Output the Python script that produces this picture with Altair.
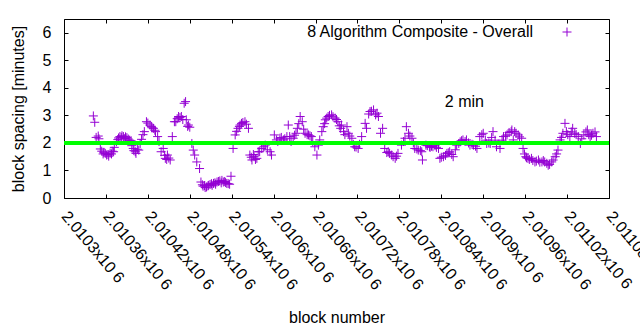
import altair as alt
import pandas as pd

# ---- data ----
BLOCKS = [
    2010342, 2010344, 2010349, 2010350, 2010354, 2010359, 2010361, 2010366, 2010371, 2010372,
    2010375, 2010380, 2010385, 2010390, 2010394, 2010399, 2010402, 2010405, 2010409, 2010411,
    2010415, 2010418, 2010423, 2010428, 2010431, 2010434, 2010439, 2010442, 2010445, 2010448,
    2010452, 2010455, 2010458,
    2010460, 2010464, 2010468, 2010472, 2010474, 2010475, 2010478, 2010480, 2010483, 2010485,
    2010487, 2010490, 2010494, 2010496, 2010499, 2010504, 2010509, 2010514, 2010519, 2010523,
    2010528, 2010533, 2010537, 2010539, 2010542, 2010545, 2010549, 2010554, 2010559, 2010564,
    2010566, 2010569, 2010572, 2010576, 2010580,
    2010578, 2010583, 2010588, 2010595, 2010597, 2010601, 2010604, 2010609, 2010614, 2010619,
    2010621, 2010623, 2010628, 2010632, 2010634, 2010638, 2010641, 2010645, 2010650, 2010654,
    2010659, 2010662, 2010664, 2010666, 2010669, 2010671, 2010674, 2010678, 2010683, 2010688,
    2010692, 2010696, 2010700,
    2010697, 2010705, 2010707, 2010712, 2010716, 2010721, 2010726, 2010731, 2010733, 2010738,
    2010743, 2010746, 2010750, 2010753, 2010756, 2010759, 2010764, 2010769, 2010774, 2010778,
    2010783, 2010788, 2010790, 2010793, 2010798, 2010802, 2010807, 2010812, 2010813, 2010818,
    2010823,
    2010824, 2010828, 2010833, 2010838, 2010843, 2010848, 2010852, 2010857, 2010862, 2010867,
    2010871, 2010876, 2010881, 2010886, 2010891, 2010895, 2010900, 2010905, 2010910, 2010914,
    2010919, 2010924, 2010929, 2010934, 2010940, 2010943,
    2010941, 2010945, 2010950, 2010955, 2010957, 2010961, 2010964, 2010969, 2010974, 2010979,
    2010984, 2010988, 2010993, 2010998, 2011003, 2011007, 2011010, 2011014, 2011017, 2011019,
    2011024, 2011028, 2011031, 2011036, 2011039, 2011044, 2011049, 2011053, 2011057, 2011062,
]
SPACING = [
    2.98, 2.75, 2.25, 2.15, 1.70, 1.62, 1.56, 1.63, 1.68, 1.84,
    2.04, 2.23, 2.23, 2.19, 2.10, 1.80, 1.68, 1.77, 1.98, 2.13,
    2.41, 2.77, 2.65, 2.53, 2.41, 2.23, 1.68, 1.80, 1.44, 1.56,
    1.38, 2.23, 2.77,
    2.77, 2.96, 2.96, 3.44, 3.50, 2.84, 2.65, 2.57, 1.98, 1.74,
    1.56, 1.31, 1.07, 0.58, 0.43, 0.40, 0.49, 0.53, 0.58, 0.62,
    0.58, 0.53, 0.50, 0.79, 1.80, 2.29, 2.53, 2.71, 2.77, 2.53,
    1.56, 1.38, 1.50, 1.44, 1.68,
    1.68, 1.80, 1.92, 1.68, 1.56, 2.29, 2.11, 2.17, 2.11, 2.23,
    2.65, 2.23, 2.17, 2.35, 2.53, 2.96, 2.77, 2.35, 2.29, 2.23,
    1.86, 1.56, 1.92, 2.11, 2.41, 2.59, 2.84, 2.96, 3.02, 2.90,
    2.77, 2.53, 2.41,
    2.65, 2.59, 2.35, 2.17, 1.86, 1.80, 2.23, 2.71, 2.53, 3.14,
    3.20, 3.02, 2.96, 2.35, 2.53, 1.80, 1.68, 1.56, 1.44, 1.62,
    1.92, 2.17, 2.59, 2.35, 2.17, 1.80, 1.74, 1.68, 1.38, 1.92,
    1.86,
    1.84, 1.86, 1.84, 1.44, 1.50, 1.62, 1.68, 1.50, 1.92, 2.04,
    2.11, 2.11, 1.92, 1.92, 1.80, 2.23, 2.35, 1.98, 1.98, 2.41,
    1.86, 1.80, 2.23, 2.29, 2.41, 2.11,
    2.47, 2.41, 2.29, 2.17, 1.80, 1.50, 1.44, 1.44, 1.31, 1.38,
    1.31, 1.31, 1.19, 1.31, 1.50, 1.74, 2.11, 2.35, 2.71, 2.41,
    2.23, 2.53, 2.35, 2.23, 1.98, 2.29, 2.47, 2.23, 2.35, 2.23,
]
# further blocks read inside the dense clusters
MORE_BLOCKS = [
    2010346, 2010352, 2010356, 2010357, 2010363, 2010364, 2010368, 2010369, 2010377, 2010378,
    2010382, 2010383, 2010387, 2010388, 2010392, 2010396, 2010397, 2010400, 2010403, 2010407,
    2010413, 2010420, 2010425, 2010426, 2010430, 2010436, 2010444, 2010447, 2010450, 2010462,
    2010466, 2010470, 2010477, 2010498, 2010501, 2010502, 2010506, 2010507, 2010511, 2010512,
    2010516, 2010517, 2010521, 2010525, 2010526, 2010530, 2010531, 2010535, 2010547, 2010551,
    2010552, 2010556, 2010561, 2010568, 2010571, 2010574, 2010586, 2010591, 2010606, 2010611,
    2010616, 2010625, 2010630, 2010636, 2010643, 2010648, 2010652, 2010656, 2010673, 2010676,
    2010680, 2010685, 2010690, 2010694, 2010702, 2010709, 2010714, 2010718, 2010723, 2010736,
    2010740, 2010748, 2010762, 2010766, 2010771, 2010776, 2010786, 2010795, 2010800, 2010805,
    2010810, 2010820, 2010826, 2010831, 2010836, 2010840, 2010846, 2010850, 2010855, 2010860,
    2010865, 2010869, 2010874, 2010879, 2010884, 2010889, 2010898, 2010903, 2010908, 2010912,
    2010917, 2010927, 2010932, 2010937, 2010947, 2010952, 2010959, 2010962, 2010966, 2010971,
    2010976, 2010981, 2010986, 2010991, 2010995, 2011000, 2011005, 2011012, 2011021, 2011026,
    2011033, 2011041, 2011047, 2011051, 2011055, 2011060,
]
MORE_SPACING = [
    2.20, 1.78, 1.60, 1.66, 1.58, 1.52, 1.60, 1.70, 2.12, 2.18,
    2.20, 2.26, 2.16, 2.22, 2.14, 2.08, 1.90, 1.72, 1.62, 1.74,
    2.30, 2.72, 2.60, 2.55, 2.46, 2.05, 1.55, 1.40, 1.45, 2.88,
    2.92, 2.85, 2.60, 0.48, 0.45, 0.38, 0.44, 0.46, 0.52, 0.46,
    0.55, 0.50, 0.60, 0.55, 0.64, 0.60, 0.56, 0.52, 2.42, 2.60,
    2.65, 2.74, 2.68, 1.48, 1.58, 1.40, 1.86, 1.75, 2.05, 2.20,
    2.15, 2.05, 2.28, 2.70, 2.50, 2.30, 2.26, 2.05, 2.70, 2.90,
    3.00, 2.95, 2.85, 2.62, 2.30, 2.25, 1.95, 1.85, 1.95, 3.05,
    3.15, 3.08, 1.65, 1.62, 1.50, 1.52, 2.05, 2.25, 2.00, 1.78,
    1.72, 1.90, 1.88, 1.90, 1.80, 1.48, 1.55, 1.64, 1.58, 1.75,
    1.98, 2.08, 2.05, 2.00, 1.95, 1.88, 2.30, 2.10, 2.00, 2.20,
    2.10, 2.10, 2.25, 2.38, 2.35, 2.22, 1.60, 1.46, 1.40, 1.36,
    1.34, 1.30, 1.36, 1.26, 1.22, 1.38, 1.60, 2.20, 2.30, 2.40,
    2.30, 2.15, 2.40, 2.30, 2.28, 2.40,
]

X_TICKS = [2010300, 2010360, 2010420, 2010480, 2010540, 2010600, 2010660,
           2010720, 2010780, 2010840, 2010900, 2010960, 2011020, 2011080]
X_TICK_LABELS = ["2.0103x10 6", "2.01036x10 6", "2.01042x10 6", "2.01048x10 6",
                 "2.01054x10 6", "2.0106x10 6", "2.01066x10 6", "2.01072x10 6",
                 "2.01078x10 6", "2.01084x10 6", "2.0109x10 6", "2.01096x10 6",
                 "2.01102x10 6", "2.01108x10 6"]
Y_TICKS = [0, 1, 2, 3, 4, 5, 6]
X_DOMAIN = [2010300, 2011080]
Y_DOMAIN = [0, 6.5]
TARGET = [2]
SERIES_LABEL = "8 Algorithm Composite - Overall"
NOTE_LABEL = ["2 min"]
NOTE_X = [2010845]
NOTE_Y = [3.5]
X_TITLE = "block number"
Y_TITLE = "block spacing [minutes]"

# ---- layout / style ----
W, H = 545, 179
FONT = "Liberation Sans"
FS = 16
PURPLE = "#9400D3"
GREEN = "#00FF00"
PLUS = "M-1,0L1,0M0,-1L0,1"

df = pd.DataFrame({"block": BLOCKS + MORE_BLOCKS, "spacing": SPACING + MORE_SPACING})
xs = alt.Scale(domain=X_DOMAIN, nice=False, zero=False)
ys = alt.Scale(domain=Y_DOMAIN, nice=False, zero=False)

label_expr = "{" + ",".join(f"'{v}':'{t}'" for v, t in zip(X_TICKS, X_TICK_LABELS)) + "}[''+datum.value]"

points = alt.Chart(df).mark_point(
    shape=PLUS, filled=False, size=81, strokeWidth=1, color=PURPLE, opacity=1
).encode(
    x=alt.X("block:Q", scale=xs, axis=alt.Axis(
        values=X_TICKS, labelExpr=label_expr, labelAngle=50, labelAlign="left",
        labelBaseline="middle", labelPadding=15, ticks=False, domain=False, grid=False,
        labelFont=FONT, labelFontSize=FS, labelColor="black", labelOverlap=False,
        labelFlush=False, labelBound=False, title=X_TITLE, titleFont=FONT,
        titleFontSize=FS, titleFontWeight="normal", titleColor="black",
        titleY=124, titleBaseline="alphabetic")),
    y=alt.Y("spacing:Q", scale=ys, axis=alt.Axis(
        values=Y_TICKS, ticks=False, domain=False, grid=False, labelPadding=13,
        labelFont=FONT, labelFontSize=FS, labelColor="black", labelFlush=False,
        title=Y_TITLE, titleFont=FONT, titleFontSize=FS, titleFontWeight="normal",
        titleColor="black", titleX=-46, titleY=H / 2, titleAngle=-90,
        titleAlign="center", titleBaseline="middle")),
)

tick_df = pd.DataFrame({"block": X_TICKS[:7], "spacing": Y_TICKS})


def tick_layer(channel, orient, offset):
    inner = dict(labels=False, domain=False, ticks=True, tickSize=4, tickColor="black",
                 tickWidth=1, grid=False, title="", orient=orient, offset=offset)
    if channel == "x":
        enc = dict(x=alt.X("block:Q", scale=xs, axis=alt.Axis(values=X_TICKS, **inner)),
                   y=alt.Y("spacing:Q", scale=ys, axis=None))
    else:
        enc = dict(x=alt.X("block:Q", scale=xs, axis=None),
                   y=alt.Y("spacing:Q", scale=ys, axis=alt.Axis(values=Y_TICKS, **inner)))
    return alt.Chart(tick_df).mark_point(opacity=0).encode(**enc)


ticks_bottom = tick_layer("x", "top", -H)
ticks_top = tick_layer("x", "bottom", -H)
ticks_left = tick_layer("y", "right", -W)
ticks_right = tick_layer("y", "left", -W)

rule = alt.Chart(pd.DataFrame({"spacing": TARGET})).mark_rule(
    color=GREEN, strokeWidth=4
).encode(y=alt.Y("spacing:Q", scale=ys, axis=None))

note = alt.Chart(pd.DataFrame({"block": NOTE_X, "spacing": NOTE_Y, "t": NOTE_LABEL})).mark_text(
    align="left", baseline="middle", font=FONT, fontSize=FS, color="black"
).encode(
    x=alt.X("block:Q", scale=xs, axis=None),
    y=alt.Y("spacing:Q", scale=ys, axis=None),
    text="t:N",
)

legend_text = alt.Chart(pd.DataFrame({"t": [SERIES_LABEL]})).mark_text(
    align="right", baseline="middle", font=FONT, fontSize=FS, color="black"
).encode(x=alt.value(469), y=alt.value(13), text="t:N")

legend_sym = alt.Chart(pd.DataFrame({"t": [SERIES_LABEL]})).mark_point(
    shape=PLUS, filled=False, size=81, strokeWidth=1, color=PURPLE, opacity=1
).encode(x=alt.value(503), y=alt.value(13))

chart = alt.layer(
    points, rule, ticks_bottom, ticks_top, ticks_left, ticks_right, note, legend_text, legend_sym
).resolve_axis(
    x="independent", y="independent"
).properties(
    width=W, height=H,
    autosize=alt.AutoSizeParams(type="none"),
    padding={"left": 64, "top": 19, "right": 640 - 64 - W, "bottom": 330 - 19 - H},
    background="white",
).configure_view(stroke="black", strokeWidth=1)

chart.save("out.html", embed_options={"renderer": "svg", "actions": False})
